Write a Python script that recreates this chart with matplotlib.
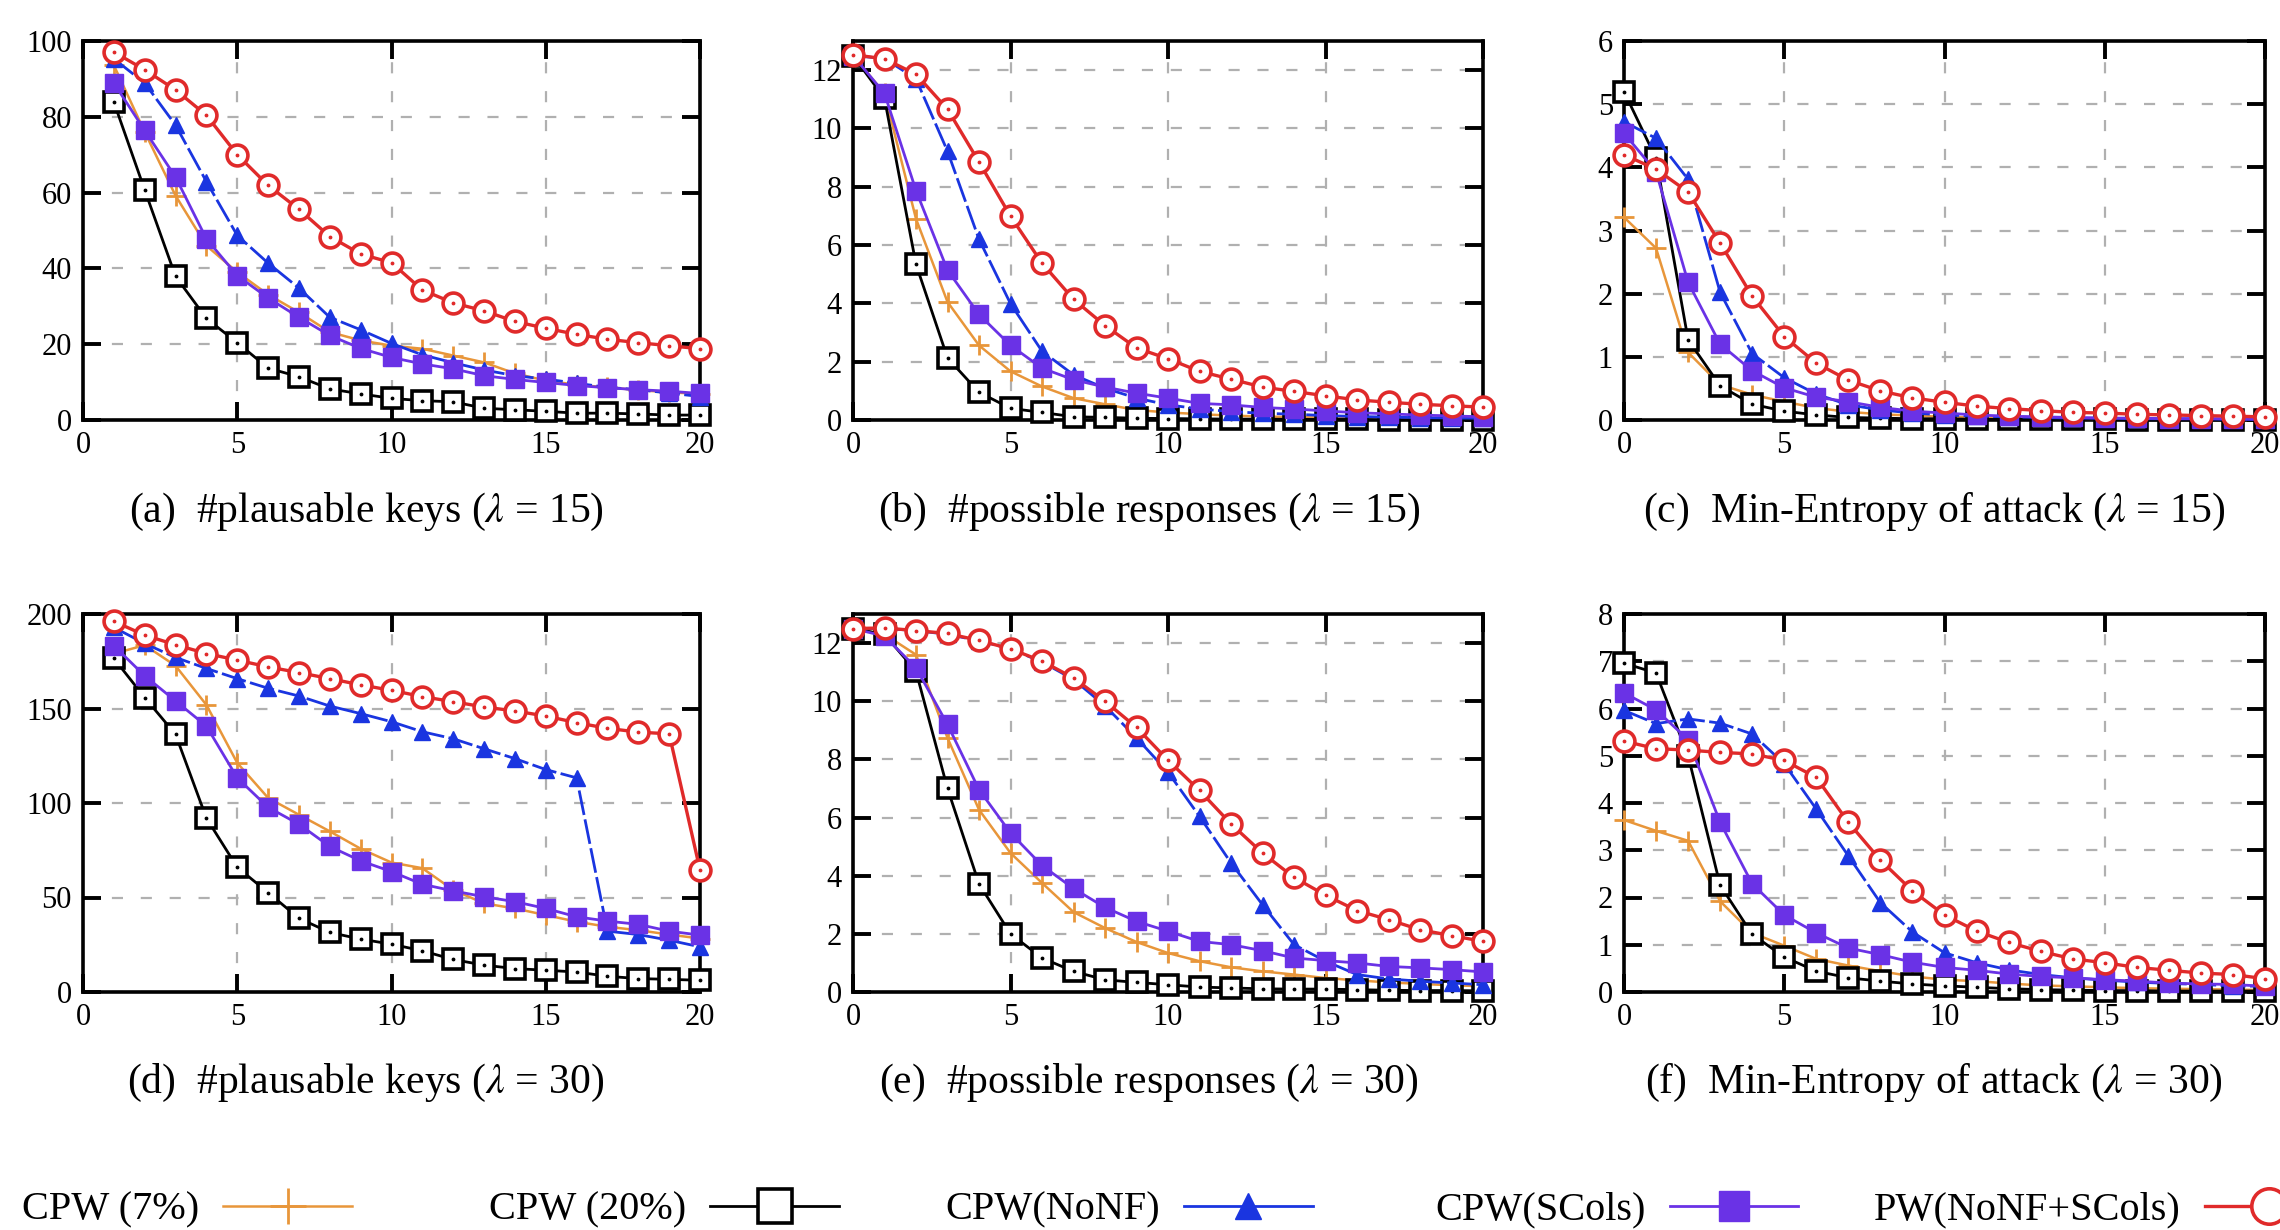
import matplotlib
matplotlib.use('Agg')
import matplotlib.pyplot as plt
from matplotlib.lines import Line2D

plt.rcParams['font.family'] = ['Liberation Serif', 'DejaVu Serif']
plt.rcParams['mathtext.fontset'] = 'stix'

# ---------------- data ----------------
x_keys = list(range(1, 21))
x_resp = list(range(0, 21))

series_names = ['CPW (7%)', 'CPW (20%)', 'CPW(NoNF)', 'CPW(SCols)', 'PW(NoNF+SCols)']

a_cpw7 = [93.6, 76.0, 59.2, 46.0, 39.0, 33.1, 28.4, 23.2, 21.0, 19.6, 18.8, 17.0, 15.2, 12.3, 10.4, 9.3, 8.6, 7.9, 7.3, 6.9]
a_cpw20 = [83.9, 60.7, 37.9, 26.8, 20.4, 13.7, 11.4, 8.2, 6.9, 5.7, 5.1, 4.8, 3.1, 2.7, 2.3, 1.8, 1.8, 1.6, 1.3, 1.3]
a_nonf = [95.3, 88.9, 77.8, 62.9, 48.7, 41.4, 34.8, 27.1, 23.8, 20.2, 17.2, 15.1, 13.2, 11.7, 10.8, 9.7, 8.6, 8.0, 7.1, 6.2]
a_scols = [88.9, 76.4, 64.1, 47.8, 38.1, 32.2, 27.1, 22.3, 18.9, 16.5, 14.8, 13.5, 11.7, 10.7, 9.9, 9.1, 8.5, 8.0, 7.6, 7.0]
a_pw = [97.1, 92.4, 87.1, 80.4, 70.0, 61.9, 55.6, 48.4, 43.8, 41.5, 34.3, 30.9, 28.8, 26.0, 24.2, 22.6, 21.3, 20.4, 19.6, 18.8]

b_cpw7 = [12.5, 11.2, 6.9, 4.05, 2.56, 1.67, 1.15, 0.75, 0.54, 0.34, 0.26, 0.2, 0.15, 0.12, 0.1, 0.08, 0.06, 0.05, 0.04, 0.03, 0.03]
b_cpw20 = [12.5, 11.03, 5.34, 2.13, 0.95, 0.4, 0.26, 0.11, 0.09, 0.06, 0.05, 0.04, 0.03, 0.03, 0.02, 0.02, 0.02, 0.01, 0.01, 0.01, 0.01]
b_nonf = [12.5, 12.4, 11.7, 9.22, 6.2, 3.99, 2.36, 1.55, 1.09, 0.75, 0.52, 0.38, 0.29, 0.23, 0.2, 0.15, 0.12, 0.1, 0.08, 0.07, 0.06]
b_scols = [12.5, 11.2, 7.87, 5.14, 3.62, 2.56, 1.78, 1.38, 1.13, 0.92, 0.75, 0.57, 0.52, 0.43, 0.38, 0.31, 0.25, 0.21, 0.17, 0.14, 0.11]
b_pw = [12.53, 12.39, 11.86, 10.66, 8.85, 6.99, 5.38, 4.14, 3.24, 2.47, 2.1, 1.67, 1.4, 1.13, 0.98, 0.83, 0.69, 0.61, 0.54, 0.49, 0.44]

c_cpw7 = [3.21, 2.72, 1.07, 0.56, 0.4, 0.29, 0.19, 0.13, 0.09, 0.07, 0.05, 0.04, 0.03, 0.02, 0.02, 0.01, 0.01, 0.01, 0.01, 0.01, 0.01]
c_cpw20 = [5.2, 4.14, 1.27, 0.54, 0.25, 0.14, 0.08, 0.04, 0.03, 0.02, 0.02, 0.01, 0.01, 0.01, 0.01, 0.01, 0.0, 0.0, 0.0, 0.0, 0.0]
c_nonf = [4.72, 4.46, 3.81, 2.02, 1.05, 0.67, 0.41, 0.24, 0.16, 0.11, 0.08, 0.06, 0.05, 0.04, 0.03, 0.03, 0.02, 0.02, 0.02, 0.01, 0.01]
c_scols = [4.54, 3.93, 2.18, 1.2, 0.78, 0.51, 0.36, 0.29, 0.2, 0.14, 0.11, 0.08, 0.06, 0.05, 0.04, 0.03, 0.03, 0.02, 0.02, 0.02, 0.01]
c_pw = [4.2, 3.97, 3.61, 2.8, 1.96, 1.32, 0.9, 0.63, 0.46, 0.35, 0.28, 0.22, 0.18, 0.15, 0.12, 0.11, 0.09, 0.08, 0.07, 0.06, 0.05]

d_cpw7 = [179.0, 183.5, 172.6, 151.9, 121.2, 102.7, 93.8, 85.0, 75.8, 68.5, 65.5, 54.0, 46.9, 44.2, 40.7, 37.2, 34.5, 32.7, 30.4, 28.3]
d_cpw20 = [176.5, 155.8, 136.3, 92.0, 66.0, 52.6, 39.0, 31.5, 28.0, 25.3, 21.8, 17.2, 14.2, 12.4, 11.5, 10.6, 8.3, 7.1, 6.7, 6.2]
d_nonf = [192.9, 184.4, 177.0, 171.2, 165.8, 160.7, 156.6, 151.3, 147.3, 143.0, 137.7, 134.0, 128.7, 123.5, 117.7, 113.3, 32.2, 30.4, 27.4, 23.9]
d_scols = [183.2, 167.3, 154.0, 140.7, 113.3, 97.7, 88.8, 77.0, 69.4, 63.7, 57.0, 53.5, 50.4, 47.8, 44.2, 39.8, 37.5, 35.8, 32.2, 30.1]
d_pw = [196.1, 188.8, 183.7, 179.1, 175.6, 172.0, 169.0, 165.8, 162.5, 159.6, 156.3, 153.6, 150.8, 148.7, 146.0, 142.5, 139.5, 137.5, 136.6, 64.6]

e_cpw7 = [12.5, 12.3, 11.6, 8.74, 6.27, 4.78, 3.75, 2.75, 2.2, 1.72, 1.34, 1.06, 0.85, 0.71, 0.6, 0.48, 0.4, 0.33, 0.28, 0.23, 0.2]
e_cpw20 = [12.5, 12.3, 11.03, 7.0, 3.72, 2.0, 1.17, 0.71, 0.42, 0.33, 0.25, 0.17, 0.14, 0.11, 0.1, 0.1, 0.08, 0.06, 0.05, 0.05, 0.04]
e_nonf = [12.5, 12.5, 12.43, 12.3, 12.08, 11.8, 11.35, 10.75, 9.84, 8.74, 7.56, 6.04, 4.44, 3.0, 1.63, 1.06, 0.6, 0.45, 0.37, 0.31, 0.25]
e_scols = [12.5, 12.24, 11.15, 9.2, 6.96, 5.47, 4.35, 3.56, 2.91, 2.43, 2.09, 1.74, 1.63, 1.42, 1.17, 1.08, 1.0, 0.88, 0.83, 0.77, 0.69]
e_pw = [12.5, 12.52, 12.43, 12.33, 12.09, 11.8, 11.38, 10.8, 10.0, 9.1, 7.97, 6.93, 5.78, 4.78, 3.94, 3.33, 2.8, 2.49, 2.14, 1.94, 1.74]

f_cpw7 = [3.64, 3.41, 3.2, 1.92, 1.25, 0.98, 0.7, 0.56, 0.44, 0.33, 0.26, 0.23, 0.18, 0.14, 0.12, 0.1, 0.08, 0.07, 0.06, 0.05, 0.04]
f_cpw20 = [6.96, 6.75, 5.0, 2.26, 1.22, 0.74, 0.44, 0.3, 0.23, 0.17, 0.13, 0.1, 0.07, 0.05, 0.04, 0.03, 0.03, 0.02, 0.02, 0.02, 0.02]
f_nonf = [5.96, 5.68, 5.78, 5.69, 5.46, 4.83, 3.87, 2.88, 1.89, 1.27, 0.83, 0.62, 0.47, 0.37, 0.3, 0.25, 0.21, 0.18, 0.16, 0.13, 0.12]
f_scols = [6.33, 5.97, 5.34, 3.59, 2.29, 1.63, 1.25, 0.93, 0.79, 0.63, 0.52, 0.46, 0.38, 0.33, 0.3, 0.26, 0.23, 0.19, 0.17, 0.16, 0.12]
f_pw = [5.31, 5.15, 5.12, 5.07, 5.04, 4.9, 4.54, 3.59, 2.79, 2.14, 1.63, 1.29, 1.05, 0.86, 0.7, 0.62, 0.52, 0.46, 0.4, 0.37, 0.28]

captions = [r'(a)  #plausable keys ($\lambda$ = 15)',
            r'(b)  #possible responses ($\lambda$ = 15)',
            r'(c)  Min-Entropy of attack ($\lambda$ = 15)',
            r'(d)  #plausable keys ($\lambda$ = 30)',
            r'(e)  #possible responses ($\lambda$ = 30)',
            r'(f)  Min-Entropy of attack ($\lambda$ = 30)']

y_ticks_a = [0, 20, 40, 60, 80, 100]
y_ticks_b = [0, 2, 4, 6, 8, 10, 12]
y_ticks_c = [0, 1, 2, 3, 4, 5, 6]
y_ticks_d = [0, 50, 100, 150, 200]
y_ticks_e = [0, 2, 4, 6, 8, 10, 12]
y_ticks_f = [0, 1, 2, 3, 4, 5, 6, 7, 8]
x_ticks = [0, 5, 10, 15, 20]

# ---------------- styles ----------------
C_OR = '#e8963a'
C_BK = '#000000'
C_BL = '#1a35e0'
C_PU = '#6a32e6'
C_RD = '#e02a2a'

styles = [
    dict(color=C_OR, marker='+', ms=15, mew=2.0, mfc='none', lw=1.8, ls='-'),
    dict(color=C_BK, marker='s', ms=14, mew=2.6, mfc='white', lw=2.0, ls='-'),
    dict(color=C_BL, marker='^', ms=11, mew=1.0, mfc=C_BL, lw=2.0, ls=(0, (9, 1.6))),
    dict(color=C_PU, marker='s', ms=13, mew=1.0, mfc=C_PU, lw=2.0, ls='-'),
    dict(color=C_RD, marker='o', ms=15, mew=2.6, mfc='white', lw=2.4, ls='-'),
]
dotted = [False, True, False, False, True]

W, H = 2280, 1230
fig = plt.figure(figsize=(W / 100, H / 100), dpi=100)

cols = [(83, 700), (853, 1483), (1624, 2265)]
rows = [(41, 420), (614, 992)]

panels = [
    (x_keys, [a_cpw7, a_cpw20, a_nonf, a_scols, a_pw], y_ticks_a, 100),
    (x_resp, [b_cpw7, b_cpw20, b_nonf, b_scols, b_pw], y_ticks_b, 13),
    (x_resp, [c_cpw7, c_cpw20, c_nonf, c_scols, c_pw], y_ticks_c, 6),
    (x_keys, [d_cpw7, d_cpw20, d_nonf, d_scols, d_pw], y_ticks_d, 200),
    (x_resp, [e_cpw7, e_cpw20, e_nonf, e_scols, e_pw], y_ticks_e, 13),
    (x_resp, [f_cpw7, f_cpw20, f_nonf, f_scols, f_pw], y_ticks_f, 8),
]

cap_x = [366, 1149, 1934]
cap_y = [512, 1083]

for i, (xs, ys_list, yt, ymax) in enumerate(panels):
    r, c = divmod(i, 3)
    x0, x1 = cols[c]
    y0, y1 = rows[r]
    ax = fig.add_axes([x0 / W, 1 - y1 / H, (x1 - x0) / W, (y1 - y0) / H])
    ax.set_xlim(0, 20)
    ax.set_ylim(0, ymax)
    ax.set_xticks(x_ticks)
    ax.set_yticks(yt)
    ax.grid(True, color='#b0b0b0', ls=(0, (5, 8)), lw=1.6)
    ax.set_axisbelow(True)
    for sp in ax.spines.values():
        sp.set_linewidth(2.6)
    ax.tick_params(direction='in', length=13, width=2.8, top=True, right=True,
                   labelsize=22, pad=8)
    for k, ys in enumerate(ys_list):
        st = styles[k]
        ax.plot(xs, ys, color=st['color'], marker=st['marker'], ms=st['ms'],
                mew=st['mew'], mfc=st['mfc'], lw=st['lw'], ls=st['ls'],
                clip_on=False, zorder=3 + k)
        if dotted[k]:
            ax.plot(xs, ys, ls='none', marker='.', ms=3.5, color=st['color'],
                    clip_on=False, zorder=3 + k)
    fig.text(cap_x[c] / W, 1 - cap_y[r] / H, captions[i], ha='center', va='center',
             fontsize=30)

# legend: one entry each, text left of sample
leg_x = [22, 489, 945, 1435, 1874]
leg_y = 1210
for k, name in enumerate(series_names):
    st = styles[k]
    h = Line2D([], [], color=st['color'], marker=st['marker'],
               ms=st['ms'] * 1.7, mew=st['mew'], mfc=st['mfc'], lw=st['lw'],
               ls='-')
    fig.legend([h], [name], loc='center left',
               bbox_to_anchor=(leg_x[k] / W, 1 - leg_y / H),
               frameon=False, markerfirst=False, fontsize=29,
               handlelength=3.2, handletextpad=0.6, borderpad=0,
               borderaxespad=0)

fig.savefig('out.png', dpi=100)
